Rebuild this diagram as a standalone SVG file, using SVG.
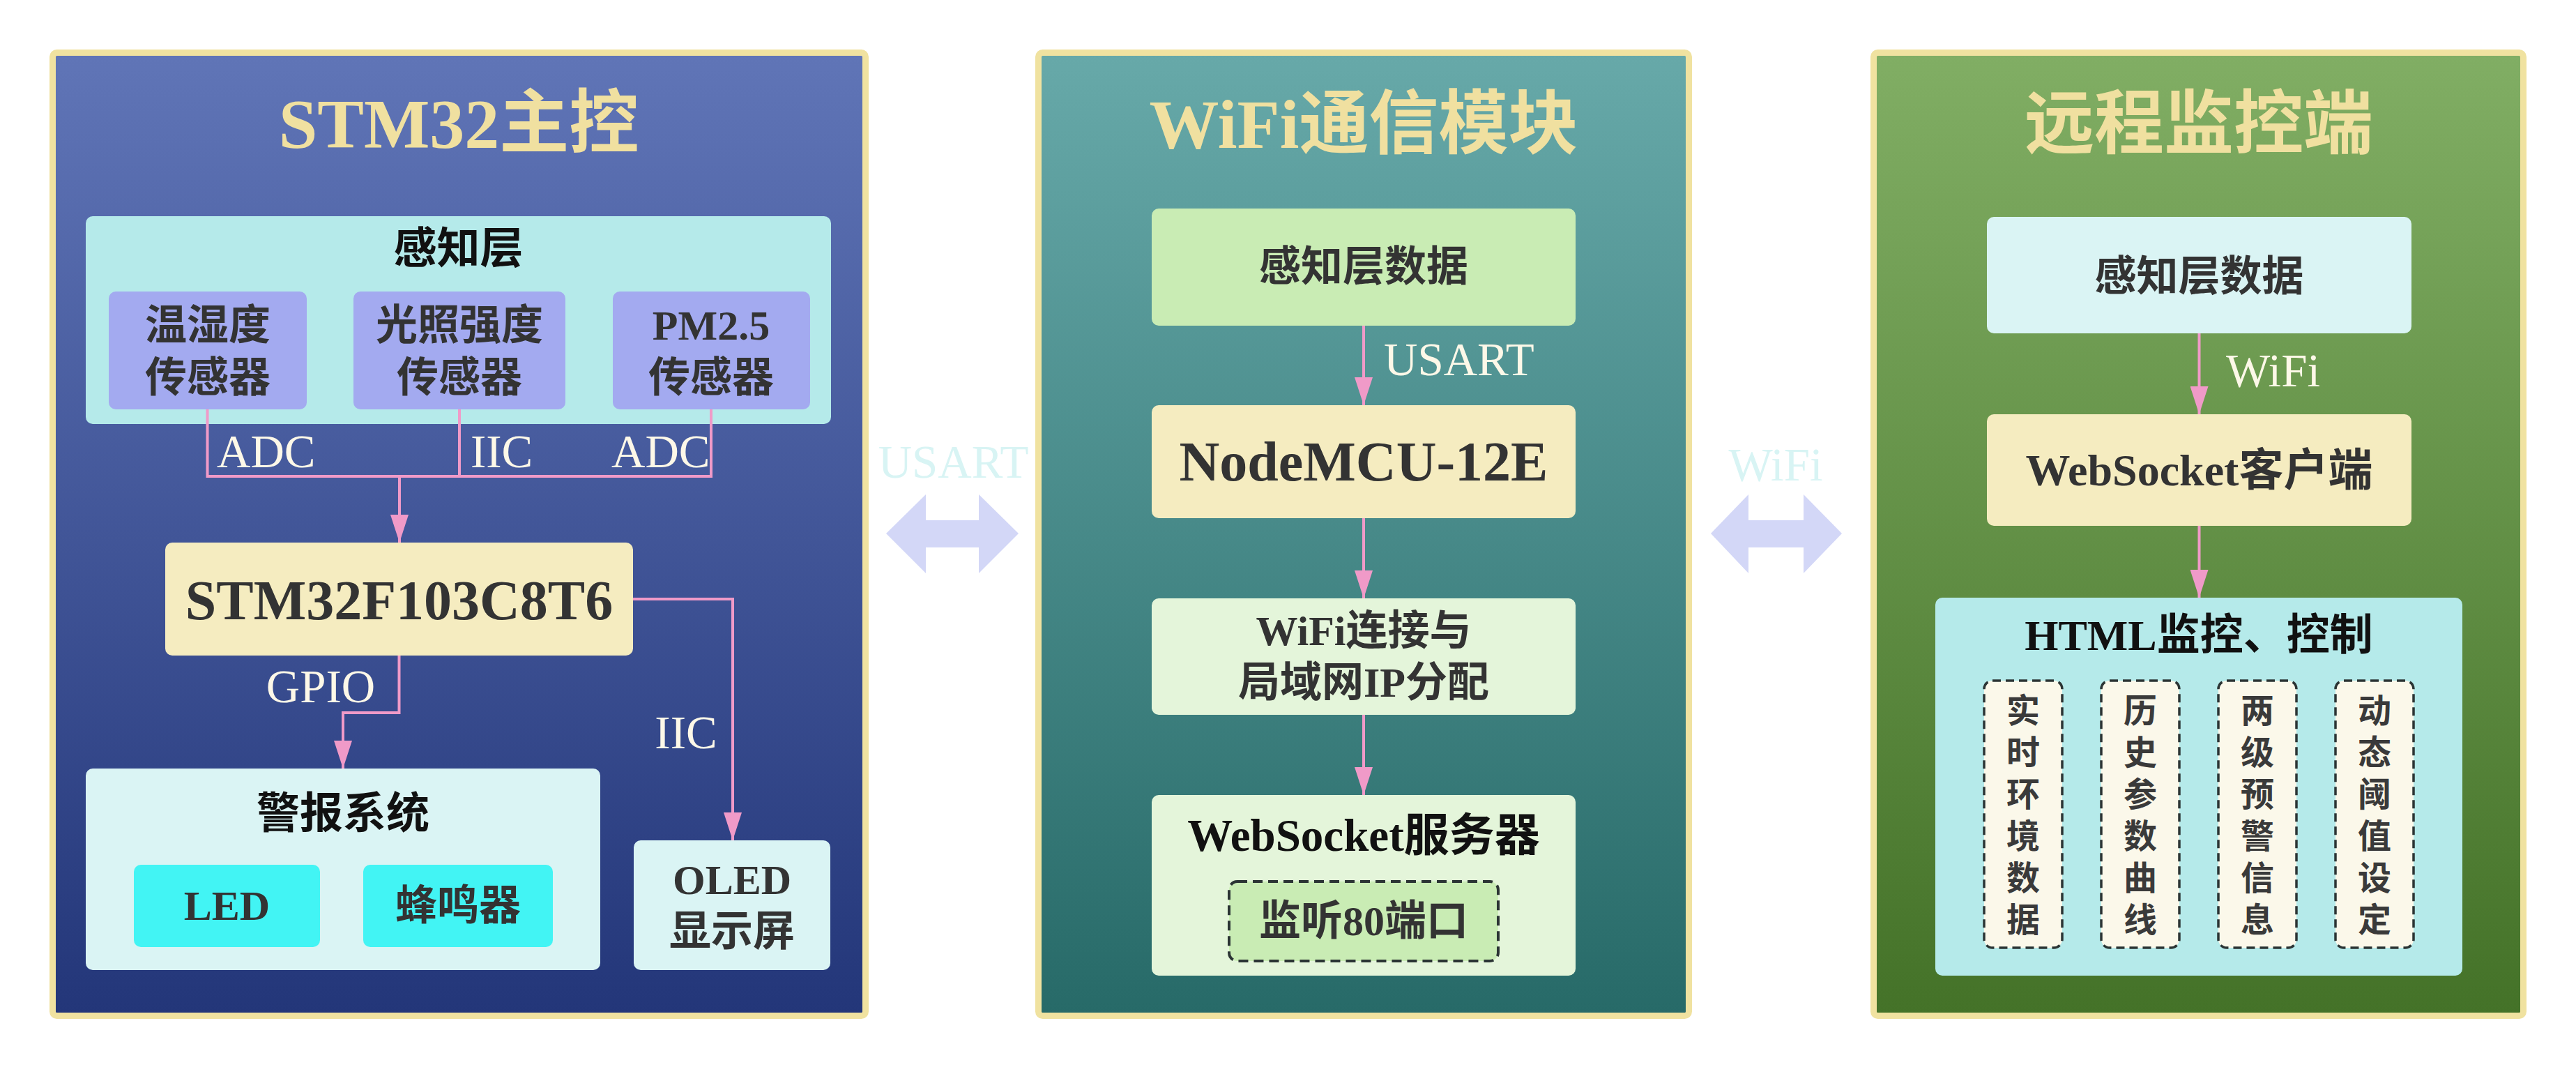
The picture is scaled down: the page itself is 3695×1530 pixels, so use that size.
<svg xmlns="http://www.w3.org/2000/svg" width="3695" height="1530" viewBox="0 0 3695 1530">
<defs>
<linearGradient id="gBlue" x1="0" y1="0" x2="0" y2="1"><stop offset="0" stop-color="#6075b7"/><stop offset="1" stop-color="#233679"/></linearGradient>
<linearGradient id="gTeal" x1="0" y1="0" x2="0" y2="1"><stop offset="0" stop-color="#67a9a9"/><stop offset="1" stop-color="#276a68"/></linearGradient>
<linearGradient id="gGreen" x1="0" y1="0" x2="0" y2="1"><stop offset="0" stop-color="#81ae64"/><stop offset="1" stop-color="#447228"/></linearGradient>
<marker id="ah" markerUnits="userSpaceOnUse" markerWidth="40" markerHeight="26" viewBox="0 0 40 26" refX="40" refY="13" orient="auto"><path d="M0,0 L40,13 L0,26 Z" fill="#f09ac8"/></marker>
<style>
text{font-family:"Liberation Serif","Noto Sans CJK SC",serif;}
.panel{stroke:#f0e2a0;stroke-width:9;}
.title{font-size:100px;font-weight:bold;fill:#f0e0a0;text-anchor:middle;}
.lbl{font-size:67px;fill:#fdf8e8;}
.nt{font-size:60px;font-weight:bold;fill:#333333;text-anchor:middle;}
.nh{font-size:62px;font-weight:bold;fill:#111111;text-anchor:middle;}
.big{font-size:80px;font-weight:bold;fill:#333333;text-anchor:middle;}
.vt{font-size:48px;font-weight:bold;fill:#3a3a3a;text-anchor:middle;}
.conn{fill:none;stroke:#f09ac8;stroke-width:4;}
.dash{stroke:#2b3434;stroke-width:4;stroke-dasharray:14 8;}
.vdash{stroke:#2b3434;stroke-width:3.5;stroke-dasharray:12 7;fill:#fbf8ea;}
.dbl{fill:#d3d7f7;}
</style>
</defs>

<g id="panel-stm32">
<rect class="panel" x="75.5" y="75.5" width="1166" height="1381" rx="6" fill="url(#gBlue)"/>
<text class="title" x="658" y="211">STM32主控</text>
</g>
<g id="panel-wifi">
<rect class="panel" x="1489.5" y="75.5" width="933" height="1381" rx="6" fill="url(#gTeal)"/>
<text class="title" x="1956" y="212">WiFi通信模块</text>
</g>
<g id="panel-remote">
<rect class="panel" x="2687.5" y="75.5" width="932" height="1381" rx="6" fill="url(#gGreen)"/>
<text class="title" x="3154" y="212">远程监控端</text>
</g>

<g id="sensing-layer">
<rect x="123" y="310" width="1069" height="298" rx="10" fill="#b5eaea"/>
<text class="nh" x="657.5" y="378">感知层</text>
</g>
<g id="sensor-th">
<rect x="156" y="418" width="284" height="169" rx="10" fill="#a3aaf0"/>
<text class="nt" x="298" y="487">温湿度</text>
<text class="nt" x="298" y="562">传感器</text>
</g>
<g id="sensor-light">
<rect x="507" y="418" width="304" height="169" rx="10" fill="#a3aaf0"/>
<text class="nt" x="659" y="487">光照强度</text>
<text class="nt" x="659" y="562">传感器</text>
</g>
<g id="sensor-pm">
<rect x="879" y="418" width="283" height="169" rx="10" fill="#a3aaf0"/>
<text class="nt" x="1020" y="487">PM2.5</text>
<text class="nt" x="1020" y="562">传感器</text>
</g>
<g id="mcu">
<rect x="237" y="778" width="671" height="162" rx="10" fill="#f5ecc0"/>
<text class="big" x="572.5" y="888">STM32F103C8T6</text>
</g>
<g id="alarm">
<rect x="123" y="1102" width="738" height="289" rx="10" fill="#daf4f4"/>
<text class="nh" x="492" y="1188">警报系统</text>
</g>
<g id="led">
<rect x="192" y="1240" width="267" height="118" rx="10" fill="#42f4f4"/>
<text class="nt" x="325.5" y="1319">LED</text>
</g>
<g id="buzzer">
<rect x="521" y="1240" width="272" height="118" rx="10" fill="#42f4f4"/>
<text class="nt" x="657" y="1319">蜂鸣器</text>
</g>
<g id="oled">
<rect x="909" y="1205" width="282" height="186" rx="10" fill="#daf4f4"/>
<text class="nt" x="1050" y="1282">OLED</text>
<text class="nt" x="1050" y="1356">显示屏</text>
</g>

<g id="w-data">
<rect x="1652" y="299" width="608" height="168" rx="10" fill="#c9ecb4"/>
<text class="nt" x="1956" y="403">感知层数据</text>
</g>
<g id="nodemcu">
<rect x="1652" y="581" width="608" height="162" rx="10" fill="#f5ecc0"/>
<text class="big" x="1956" y="689">NodeMCU-12E</text>
</g>
<g id="wifi-conn">
<rect x="1652" y="858" width="608" height="167" rx="10" fill="#e4f5da"/>
<text class="nt" x="1956" y="925">WiFi连接与</text>
<text class="nt" x="1956" y="999">局域网IP分配</text>
</g>
<g id="ws-server">
<rect x="1652" y="1140" width="608" height="259" rx="10" fill="#e4f5da"/>
<text class="nh" x="1956" y="1220" style="font-size:65px">WebSocket服务器</text>
</g>
<g id="port80">
<rect class="dash" x="1763" y="1264" width="386" height="114" rx="12" fill="#c9ecb4"/>
<text class="nt" x="1956" y="1341">监听80端口</text>
</g>

<g id="r-data">
<rect x="2850" y="311" width="609" height="167" rx="10" fill="#daf4f4"/>
<text class="nt" x="3154.5" y="417">感知层数据</text>
</g>
<g id="ws-client">
<rect x="2850" y="594" width="609" height="160" rx="10" fill="#f5ecc0"/>
<text class="nt" x="3154.5" y="696" style="font-size:64px">WebSocket客户端</text>
</g>
<g id="html">
<rect x="2776" y="857" width="756" height="542" rx="10" fill="#b5eaea"/>
<text class="nh" x="3154" y="932">HTML监控、控制</text>
</g>
<g id="f-realtime">
<rect class="vdash" x="2846" y="976" width="112" height="383" rx="12"/>
<text class="vt"><tspan x="2902" y="1036">实</tspan><tspan x="2902" y="1096">时</tspan><tspan x="2902" y="1156">环</tspan><tspan x="2902" y="1216">境</tspan><tspan x="2902" y="1276">数</tspan><tspan x="2902" y="1336">据</tspan></text>
</g>
<g id="f-history">
<rect class="vdash" x="3014" y="976" width="112" height="383" rx="12"/>
<text class="vt"><tspan x="3070" y="1036">历</tspan><tspan x="3070" y="1096">史</tspan><tspan x="3070" y="1156">参</tspan><tspan x="3070" y="1216">数</tspan><tspan x="3070" y="1276">曲</tspan><tspan x="3070" y="1336">线</tspan></text>
</g>
<g id="f-warning">
<rect class="vdash" x="3182" y="976" width="112" height="383" rx="12"/>
<text class="vt"><tspan x="3238" y="1036">两</tspan><tspan x="3238" y="1096">级</tspan><tspan x="3238" y="1156">预</tspan><tspan x="3238" y="1216">警</tspan><tspan x="3238" y="1276">信</tspan><tspan x="3238" y="1336">息</tspan></text>
</g>
<g id="f-threshold">
<rect class="vdash" x="3350" y="976" width="112" height="383" rx="12"/>
<text class="vt"><tspan x="3406" y="1036">动</tspan><tspan x="3406" y="1096">态</tspan><tspan x="3406" y="1156">阈</tspan><tspan x="3406" y="1216">值</tspan><tspan x="3406" y="1276">设</tspan><tspan x="3406" y="1336">定</tspan></text>
</g>

<g id="connectors">
<path class="conn" d="M297.5,587 V683 H573"/>
<path class="conn" d="M1020,587 V683 H573"/>
<path class="conn" d="M659,587 V683"/>
<path class="conn" d="M573,683 V778" marker-end="url(#ah)"/>
<path class="conn" d="M572.5,940 V1022 H492 V1102" marker-end="url(#ah)"/>
<path class="conn" d="M908,859 H1051 V1205" marker-end="url(#ah)"/>
<path class="conn" d="M1956,467 V581" marker-end="url(#ah)"/>
<path class="conn" d="M1956,743 V858" marker-end="url(#ah)"/>
<path class="conn" d="M1956,1025 V1140" marker-end="url(#ah)"/>
<path class="conn" d="M3154.5,478 V594" marker-end="url(#ah)"/>
<path class="conn" d="M3154.5,754 V857" marker-end="url(#ah)"/>
<text class="lbl" x="311" y="670">ADC</text>
<text class="lbl" x="675" y="670">IIC</text>
<text class="lbl" x="877" y="670">ADC</text>
<text class="lbl" x="460" y="1007" text-anchor="middle">GPIO</text>
<text class="lbl" x="984" y="1073" text-anchor="middle">IIC</text>
<text class="lbl" x="1985" y="538">USART</text>
<text class="lbl" x="3193" y="554">WiFi</text>
<polygon class="dbl" points="1271,765 1328,709 1328,746 1404,746 1404,709 1461,765 1404,822 1404,785 1328,785 1328,822"/>
<text class="lbl" x="1367.5" y="685" text-anchor="middle" style="fill:#d8f4f4">USART</text>
<polygon class="dbl" points="2454,765 2508,709 2508,746 2587,746 2587,709 2642,765 2587,822 2587,785 2508,785 2508,822"/>
<text class="lbl" x="2547" y="689" text-anchor="middle" style="fill:#d8f4f4">WiFi</text>
</g>
</svg>
